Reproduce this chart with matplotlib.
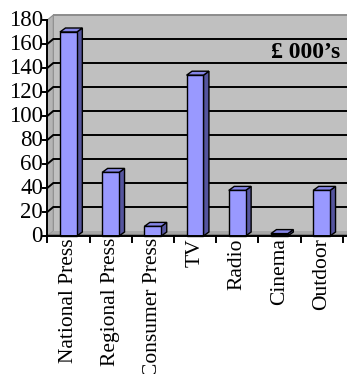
import matplotlib
matplotlib.use("Agg")
import matplotlib.pyplot as plt
from matplotlib.patches import Polygon, Rectangle

# Media spend by channel (£ 000's)
categories = ["National Press", "Regional Press", "Consumer Press", "TV",
              "Radio", "Cinema", "Outdoor"]
values = [170, 53, 8, 134, 38, 2, 38]
y_ticks = [0, 20, 40, 60, 80, 100, 120, 140, 160, 180]
unit_label = "£ 000’s"

W, H, DPI = 347, 374, 100
fig = plt.figure(figsize=(W / DPI, H / DPI), dpi=DPI)
fig.patch.set_facecolor("white")

ax_left, ax_right = 47.3, 342.7
ax_top, ax_bottom = 20, 236
ax = fig.add_axes([ax_left / W, (H - ax_bottom) / H,
                   (ax_right - ax_left) / W, (ax_bottom - ax_top) / H])
n = len(categories)
ymax = 180
ax.set_xlim(0, n)
ax.set_ylim(0, ymax)
ax.axis("off")

px_x = (ax_right - ax_left) / n      # pixels per category
px_y = (ax_bottom - ax_top) / ymax   # pixels per unit

# depth of the walls and of the columns, in data units
wdx, wdy = 6 / px_x, 5 / px_y
bdx, bdy = 5.5 / px_x, 4 / px_y

wall_c = "#C0C0C0"
# back wall
ax.add_patch(Rectangle((wdx, wdy), n + 1, ymax, facecolor=wall_c,
                       edgecolor="none", clip_on=False, zorder=1))
ax.plot([wdx, n + 1], [ymax + wdy, ymax + wdy], color="#8C8C8C", lw=1.4,
        clip_on=False, zorder=2, solid_capstyle="butt")
# side wall
ax.add_patch(Polygon([(0, 0), (0, ymax), (wdx, ymax + wdy), (wdx, wdy)],
                     closed=True, facecolor="#B4B4B4", edgecolor="#8C8C8C",
                     lw=0.8, clip_on=False, zorder=1))
# floor
ax.add_patch(Polygon([(0, 0), (n + 1, 0), (n + 1 + wdx, wdy), (wdx, wdy)],
                     closed=True, facecolor="#A8A8A8", edgecolor="none",
                     clip_on=False, zorder=1))
ax.plot([0, n + 1], [0.8, 0.8], color="#7E7E7E", lw=1.5, clip_on=False,
        zorder=2, solid_capstyle="butt")

# gridlines running across the side wall and the back wall
for t in y_ticks[1:-1]:
    ax.plot([0, wdx, n + 1], [t, t + wdy, t + wdy], color="black", lw=1.4,
            clip_on=False, zorder=2, solid_joinstyle="miter")

# columns
front_c, top_c, side_c = "#9999FF", "#8585E6", "#55559E"
bw = 0.4
for i, v in enumerate(values):
    x0 = i + 0.5 - bw / 2
    x1 = x0 + bw
    ax.add_patch(Polygon([(x1, 0), (x1, v), (x1 + bdx, v + bdy), (x1 + bdx, bdy)],
                         closed=True, facecolor=side_c, edgecolor="black",
                         lw=1.0, clip_on=False, zorder=3))
    ax.add_patch(Polygon([(x0, v), (x1, v), (x1 + bdx, v + bdy), (x0 + bdx, v + bdy)],
                         closed=True, facecolor=top_c, edgecolor="black",
                         lw=1.0, clip_on=False, zorder=3))
    ax.add_patch(Rectangle((x0, 0), bw, v, facecolor=front_c,
                           edgecolor="black", lw=1.0, clip_on=False, zorder=4))

# axes lines and tick marks
ax.plot([0, 0], [0, ymax], color="black", lw=1.4, clip_on=False, zorder=5)
ax.plot([0, n + 0.2], [0, 0], color="black", lw=1.4, clip_on=False, zorder=5)
tick_len_x = 4 / px_x
tick_len_y = 6 / px_y
font = "Liberation Serif"
for t in y_ticks:
    ax.plot([-tick_len_x, 0], [t, t], color="black", lw=1.4, clip_on=False, zorder=5)
    ax.text(-tick_len_x - 0.01, t, str(t), ha="right", va="center",
            fontsize=16.5, family=font, clip_on=False)
for i in range(n + 1):
    ax.plot([i, i], [0, -tick_len_y], color="black", lw=1.4, clip_on=False, zorder=5)
for i, c in enumerate(categories):
    ax.text(i + 0.5, -2 / px_y, c, rotation=90, ha="center", va="top",
            fontsize=15.5, family=font, clip_on=False)

ax.text(6.95, 148, unit_label, ha="right", va="baseline", fontsize=17,
        fontweight="bold", family=font, zorder=6)

fig.savefig("out.png", dpi=DPI, facecolor="white")
